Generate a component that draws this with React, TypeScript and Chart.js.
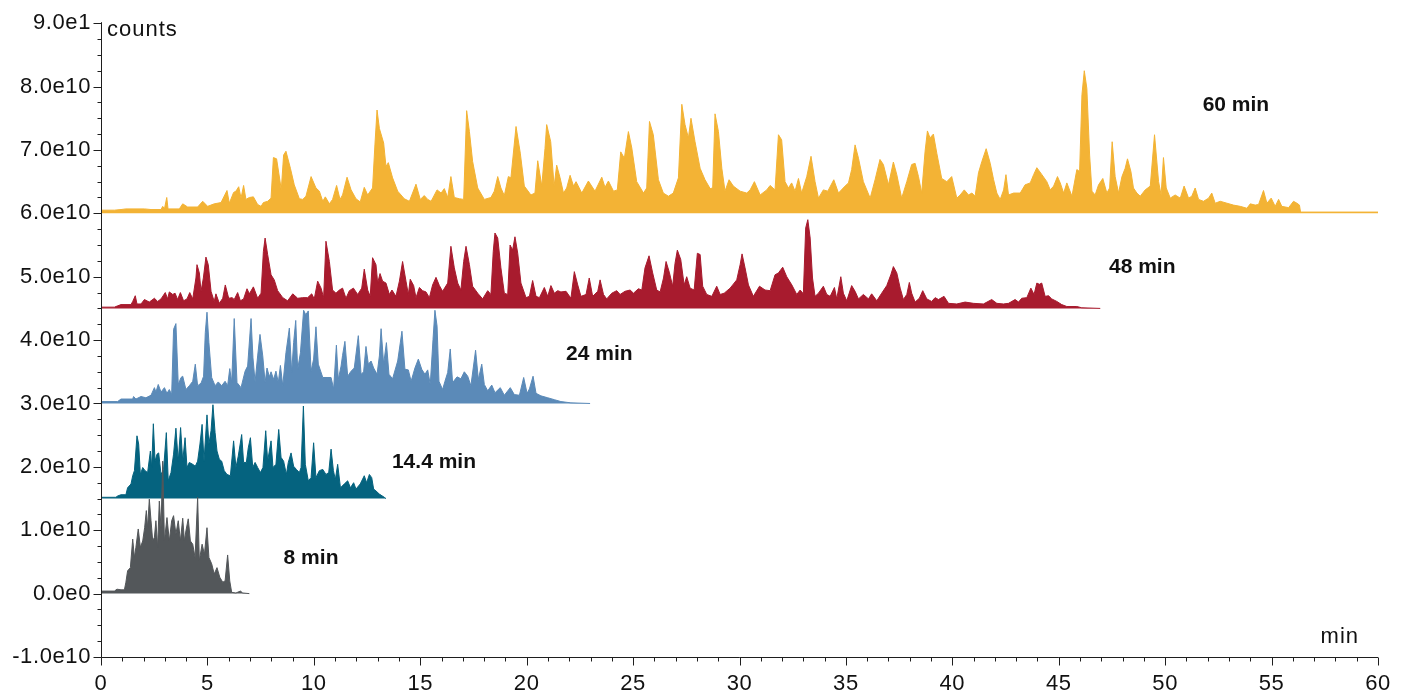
import React, { useEffect, useRef } from "react";
import { Chart, registerables } from "chart.js";

Chart.register(...registerables);

// ---- Axis ticks ----
const xTickLabels = ["0", "5", "10", "15", "20", "25", "30", "35", "40", "45", "50", "55", "60"];
const yTickLabels = ["-1.0e10", "0.0e0", "1.0e10", "2.0e10", "3.0e10", "4.0e10", "5.0e10", "6.0e10", "7.0e10", "8.0e10", "9.0e1"];

// ---- Series (time in min, signal above the trace offset, in 1e10 counts) ----
const seriesNames = ["8 min", "14.4 min", "24 min", "48 min", "60 min"];
const seriesOffsets = [0, 1.5, 3.0, 4.5, 6.0];

const trace8min: number[][] = [
  [0, 0.04], [0.63, 0.04], [0.75, 0.07], [0.94, 0.06], [1.1, 0.06], [1.17, 0.18], [1.25, 0.36], [1.38, 0.41],
  [1.49, 0.86], [1.57, 0.57], [1.64, 0.73], [1.75, 1.02], [1.85, 0.73], [1.96, 0.83], [2.05, 1.04], [2.13, 1.31],
  [2.19, 1.04], [2.27, 1.49], [2.35, 1.15], [2.43, 0.83], [2.51, 0.89], [2.58, 1.15], [2.66, 0.73], [2.74, 1.46],
  [2.82, 1.04], [2.9, 2.09], [2.98, 0.83], [3.1, 1.2], [3.21, 0.83], [3.32, 1.15], [3.41, 1.23], [3.52, 0.94],
  [3.63, 1.15], [3.73, 0.83], [3.84, 1.19], [3.92, 0.83], [3.99, 0.99], [4.1, 1.18], [4.2, 0.83], [4.31, 0.78],
  [4.42, 0.57], [4.54, 1.52], [4.62, 0.52], [4.75, 0.78], [4.86, 0.62], [4.98, 1.04], [5.07, 0.57], [5.2, 0.47],
  [5.32, 0.31], [5.45, 0.41], [5.58, 0.26], [5.72, 0.18], [5.83, 0.2], [5.95, 0.61], [6.05, 0.2], [6.14, 0.02],
  [6.34, 0.01], [6.55, 0.04], [6.66, 0.01], [6.97, 0.0],
];

const trace14min: number[][] = [
  [0, 0.02], [0.7, 0.02], [0.78, 0.04], [0.94, 0.06], [1.17, 0.06], [1.25, 0.17], [1.41, 0.23], [1.49, 0.36],
  [1.57, 0.44], [1.69, 0.99], [1.77, 0.86], [1.85, 0.38], [1.96, 0.49], [2.07, 0.44], [2.19, 0.41], [2.32, 0.75],
  [2.38, 0.49], [2.46, 1.18], [2.54, 0.59], [2.63, 0.7], [2.71, 0.72], [2.82, 0.38], [2.94, 0.46], [3.07, 1.04],
  [3.16, 0.28], [3.29, 0.41], [3.41, 0.7], [3.52, 1.11], [3.63, 0.59], [3.74, 1.12], [3.84, 0.59], [3.95, 0.96],
  [4.04, 0.49], [4.15, 0.57], [4.31, 0.54], [4.43, 0.51], [4.54, 0.59], [4.65, 0.86], [4.75, 1.17], [4.84, 0.59],
  [4.98, 1.32], [5.07, 0.86], [5.17, 1.07], [5.26, 1.48], [5.36, 1.04], [5.45, 0.75], [5.56, 0.62], [5.67, 0.59],
  [5.79, 0.44], [5.92, 0.38], [6.08, 0.36], [6.23, 0.91], [6.34, 0.49], [6.45, 0.67], [6.61, 1.01], [6.7, 0.57],
  [6.83, 0.57], [6.92, 0.8], [7.02, 0.96], [7.13, 0.49], [7.24, 0.57], [7.36, 0.49], [7.49, 0.41], [7.61, 0.49],
  [7.74, 1.07], [7.83, 0.59], [7.99, 0.91], [8.08, 0.49], [8.22, 0.54], [8.35, 1.09], [8.46, 0.65], [8.58, 0.59],
  [8.71, 0.38], [8.8, 0.57], [8.93, 0.72], [9.05, 0.51], [9.18, 0.46], [9.32, 0.41], [9.4, 0.49], [9.51, 1.46],
  [9.6, 0.54], [9.74, 0.28], [9.87, 0.33], [9.99, 0.88], [10.1, 0.33], [10.26, 0.44], [10.42, 0.46], [10.57, 0.38],
  [10.7, 0.41], [10.81, 0.78], [10.92, 0.44], [11.01, 0.3], [11.12, 0.54], [11.25, 0.17], [11.43, 0.23], [11.59, 0.28],
  [11.72, 0.17], [11.87, 0.25], [11.98, 0.15], [12.18, 0.23], [12.37, 0.36], [12.48, 0.25], [12.61, 0.38], [12.72, 0.33],
  [12.81, 0.15], [12.92, 0.12], [13.08, 0.07], [13.31, 0.02], [13.39, 0.0],
];

const trace24min: number[][] = [
  [0, 0.03], [0.78, 0.03], [0.94, 0.07], [1.49, 0.07], [1.53, 0.11], [1.64, 0.07], [1.88, 0.11], [2.11, 0.09],
  [2.35, 0.13], [2.51, 0.25], [2.58, 0.18], [2.69, 0.3], [2.82, 0.18], [2.98, 0.25], [3.1, 0.16], [3.21, 0.22],
  [3.32, 0.14], [3.41, 1.17], [3.52, 1.26], [3.63, 0.3], [3.76, 0.41], [3.84, 0.43], [3.99, 0.22], [4.15, 0.28],
  [4.31, 0.35], [4.43, 0.62], [4.54, 0.28], [4.7, 0.32], [4.82, 0.43], [4.9, 1.12], [4.98, 1.44], [5.07, 0.96],
  [5.2, 0.41], [5.36, 0.28], [5.51, 0.34], [5.67, 0.28], [5.83, 0.35], [5.95, 0.28], [6.05, 0.55], [6.14, 0.33],
  [6.26, 1.34], [6.39, 0.33], [6.58, 0.25], [6.77, 0.51], [6.89, 0.59], [7.05, 1.34], [7.14, 0.72], [7.24, 0.34],
  [7.36, 0.75], [7.47, 1.09], [7.6, 0.75], [7.71, 0.33], [7.8, 0.56], [7.91, 0.42], [7.99, 0.5], [8.11, 0.38],
  [8.22, 0.51], [8.33, 0.33], [8.43, 0.6], [8.54, 0.28], [8.69, 0.8], [8.85, 1.19], [8.96, 0.49], [9.05, 0.96],
  [9.15, 1.31], [9.24, 0.54], [9.37, 0.8], [9.52, 1.47], [9.62, 1.4], [9.74, 1.46], [9.87, 0.51], [9.99, 0.7],
  [10.1, 1.21], [10.21, 0.62], [10.42, 0.41], [10.62, 0.41], [10.81, 0.41], [10.93, 0.23], [11.06, 0.92], [11.15, 0.38],
  [11.28, 0.59], [11.35, 0.76], [11.46, 0.98], [11.59, 0.43], [11.75, 0.51], [11.9, 0.56], [12.09, 1.07], [12.22, 0.46],
  [12.34, 0.5], [12.45, 0.9], [12.56, 0.62], [12.69, 0.67], [12.81, 0.56], [12.97, 0.46], [13.08, 0.75], [13.16, 1.18],
  [13.28, 0.62], [13.41, 0.96], [13.53, 0.46], [13.7, 0.39], [13.94, 0.67], [14.14, 1.14], [14.28, 0.54], [14.44, 0.53],
  [14.57, 0.35], [14.75, 0.56], [14.91, 0.7], [15.07, 0.54], [15.22, 0.46], [15.35, 0.53], [15.47, 0.3], [15.6, 1.01],
  [15.69, 1.47], [15.79, 1.22], [15.88, 0.35], [16.05, 0.22], [16.16, 0.35], [16.29, 0.49], [16.41, 0.86], [16.52, 0.33],
  [16.73, 0.42], [16.91, 0.39], [17.07, 0.5], [17.23, 0.43], [17.38, 0.28], [17.6, 0.84], [17.73, 0.38], [17.89, 0.62],
  [18.01, 0.3], [18.17, 0.2], [18.36, 0.29], [18.51, 0.17], [18.76, 0.25], [18.95, 0.13], [19.23, 0.25], [19.42, 0.14],
  [19.66, 0.13], [19.86, 0.41], [20.02, 0.16], [20.13, 0.23], [20.3, 0.43], [20.44, 0.16], [20.67, 0.12], [20.99, 0.09],
  [21.3, 0.06], [21.61, 0.03], [22.08, 0.01], [22.98, 0.0],
];

const trace48min: number[][] = [
  [0, 0.02], [0.63, 0.02], [0.78, 0.04], [0.94, 0.06], [1.41, 0.06], [1.49, 0.11], [1.61, 0.2], [1.69, 0.07],
  [1.88, 0.07], [2.04, 0.14], [2.27, 0.1], [2.51, 0.16], [2.66, 0.11], [2.82, 0.15], [3.02, 0.25], [3.13, 0.15],
  [3.21, 0.26], [3.37, 0.22], [3.48, 0.24], [3.6, 0.14], [3.73, 0.25], [3.88, 0.12], [4.04, 0.15], [4.17, 0.25],
  [4.31, 0.15], [4.46, 0.48], [4.51, 0.69], [4.62, 0.56], [4.7, 0.27], [4.81, 0.48], [4.93, 0.81], [5.04, 0.69],
  [5.17, 0.27], [5.32, 0.11], [5.4, 0.23], [5.56, 0.08], [5.72, 0.16], [5.84, 0.37], [6.0, 0.16], [6.16, 0.17],
  [6.26, 0.14], [6.42, 0.25], [6.55, 0.12], [6.7, 0.15], [6.86, 0.31], [6.97, 0.23], [7.16, 0.34], [7.36, 0.16],
  [7.52, 0.24], [7.63, 0.9], [7.71, 1.11], [7.83, 0.85], [7.99, 0.53], [8.14, 0.45], [8.3, 0.28], [8.54, 0.17],
  [8.77, 0.12], [9.01, 0.23], [9.24, 0.16], [9.48, 0.17], [9.71, 0.17], [9.9, 0.23], [10.02, 0.15], [10.18, 0.43],
  [10.34, 0.32], [10.46, 0.17], [10.57, 1.06], [10.73, 0.74], [10.88, 0.29], [11.04, 0.24], [11.2, 0.29], [11.35, 0.32],
  [11.51, 0.16], [11.67, 0.28], [11.86, 0.32], [12.06, 0.22], [12.25, 0.32], [12.37, 0.62], [12.53, 0.29], [12.65, 0.19],
  [12.76, 0.8], [12.92, 0.69], [13.0, 0.4], [13.11, 0.55], [13.23, 0.43], [13.39, 0.4], [13.55, 0.22], [13.67, 0.29],
  [13.86, 0.19], [14.02, 0.43], [14.17, 0.74], [14.33, 0.43], [14.44, 0.22], [14.53, 0.46], [14.69, 0.36], [14.8, 0.17],
  [14.96, 0.33], [15.11, 0.28], [15.27, 0.26], [15.43, 0.17], [15.58, 0.37], [15.74, 0.49], [15.9, 0.36], [16.05, 0.27],
  [16.29, 0.4], [16.44, 0.98], [16.6, 0.64], [16.76, 0.4], [16.91, 0.29], [17.04, 0.74], [17.15, 0.98], [17.31, 0.69],
  [17.46, 0.35], [17.7, 0.24], [17.93, 0.15], [18.17, 0.28], [18.32, 0.22], [18.43, 0.9], [18.51, 1.19], [18.64, 1.11],
  [18.79, 0.64], [18.95, 0.24], [19.11, 0.22], [19.22, 1.0], [19.34, 0.92], [19.45, 1.13], [19.58, 0.87], [19.73, 0.4],
  [19.97, 0.17], [20.13, 0.19], [20.28, 0.44], [20.44, 0.19], [20.6, 0.17], [20.83, 0.33], [20.99, 0.19], [21.14, 0.36],
  [21.3, 0.24], [21.46, 0.28], [21.61, 0.26], [21.85, 0.27], [22.08, 0.16], [22.24, 0.58], [22.4, 0.37], [22.55, 0.19],
  [22.79, 0.22], [22.94, 0.48], [23.1, 0.19], [23.34, 0.27], [23.45, 0.45], [23.61, 0.22], [23.76, 0.15], [24.0, 0.24],
  [24.23, 0.28], [24.39, 0.22], [24.62, 0.27], [24.86, 0.29], [25.02, 0.24], [25.25, 0.31], [25.41, 0.29], [25.56, 0.64],
  [25.75, 0.83], [25.92, 0.56], [26.11, 0.29], [26.27, 0.26], [26.43, 0.48], [26.55, 0.74], [26.71, 0.56], [26.86, 0.35],
  [26.97, 0.71], [27.08, 0.92], [27.24, 0.77], [27.4, 0.37], [27.52, 0.5], [27.68, 0.32], [27.87, 0.29], [28.02, 0.87],
  [28.15, 0.85], [28.27, 0.35], [28.46, 0.22], [28.7, 0.19], [28.93, 0.35], [29.09, 0.22], [29.28, 0.24], [29.56, 0.32],
  [29.87, 0.45], [30.03, 0.69], [30.12, 0.86], [30.26, 0.64], [30.42, 0.37], [30.65, 0.19], [30.94, 0.35], [31.2, 0.29],
  [31.44, 0.28], [31.67, 0.53], [31.83, 0.56], [32.03, 0.65], [32.22, 0.5], [32.46, 0.37], [32.69, 0.22], [32.85, 0.29],
  [33.0, 0.23], [33.11, 1.27], [33.21, 1.4], [33.32, 1.11], [33.43, 0.48], [33.55, 0.19], [33.71, 0.24], [33.94, 0.35],
  [34.1, 0.22], [34.26, 0.19], [34.46, 0.33], [34.57, 0.15], [34.76, 0.5], [34.88, 0.24], [35.04, 0.12], [35.27, 0.36],
  [35.43, 0.27], [35.59, 0.15], [35.82, 0.22], [36.06, 0.15], [36.21, 0.23], [36.45, 0.12], [36.68, 0.24], [36.92, 0.36],
  [37.11, 0.53], [37.23, 0.66], [37.39, 0.56], [37.55, 0.32], [37.7, 0.14], [37.86, 0.22], [37.98, 0.41], [38.09, 0.24],
  [38.25, 0.1], [38.45, 0.16], [38.61, 0.28], [38.8, 0.15], [39.03, 0.11], [39.19, 0.17], [39.35, 0.14], [39.61, 0.19],
  [39.82, 0.08], [40.21, 0.07], [40.6, 0.1], [40.99, 0.08], [41.46, 0.07], [41.85, 0.14], [42.09, 0.08], [42.4, 0.07],
  [42.64, 0.08], [42.95, 0.14], [43.11, 0.1], [43.26, 0.16], [43.5, 0.17], [43.69, 0.32], [43.84, 0.22], [43.97, 0.4],
  [44.09, 0.38], [44.2, 0.4], [44.36, 0.19], [44.52, 0.2], [44.67, 0.15], [44.91, 0.11], [45.14, 0.06], [45.38, 0.03],
  [45.85, 0.03], [46.08, 0.01], [46.95, 0.0],
];

const trace60min: number[][] = [
  [0, 0.05], [0.63, 0.05], [0.94, 0.06], [1.17, 0.07], [2.04, 0.07], [2.35, 0.06], [2.82, 0.06], [2.9, 0.11],
  [2.98, 0.07], [3.09, 0.25], [3.15, 0.07], [3.68, 0.07], [3.84, 0.15], [4.07, 0.1], [4.54, 0.1], [4.78, 0.19],
  [5.01, 0.11], [5.32, 0.15], [5.64, 0.17], [5.92, 0.36], [6.03, 0.16], [6.23, 0.33], [6.34, 0.35], [6.47, 0.42],
  [6.58, 0.24], [6.7, 0.44], [6.81, 0.22], [6.97, 0.25], [7.16, 0.26], [7.36, 0.14], [7.52, 0.11], [7.63, 0.17],
  [7.83, 0.19], [7.99, 0.24], [8.1, 0.88], [8.25, 0.86], [8.41, 0.51], [8.47, 0.37], [8.58, 0.92], [8.69, 0.98],
  [8.9, 0.71], [9.08, 0.45], [9.32, 0.23], [9.48, 0.22], [9.63, 0.27], [9.87, 0.58], [10.1, 0.4], [10.26, 0.35],
  [10.42, 0.19], [10.54, 0.26], [10.73, 0.15], [10.88, 0.22], [11.07, 0.44], [11.23, 0.22], [11.35, 0.29], [11.56, 0.57],
  [11.75, 0.37], [11.98, 0.23], [12.18, 0.18], [12.37, 0.41], [12.53, 0.29], [12.76, 0.4], [12.87, 1.08], [12.97, 1.63],
  [13.08, 1.34], [13.28, 1.11], [13.39, 0.74], [13.5, 0.8], [13.7, 0.56], [13.94, 0.35], [14.25, 0.23], [14.49, 0.19],
  [14.8, 0.46], [15.0, 0.22], [15.19, 0.28], [15.35, 0.22], [15.51, 0.19], [15.79, 0.37], [15.98, 0.32], [16.13, 0.39],
  [16.29, 0.25], [16.44, 0.58], [16.6, 0.25], [16.84, 0.23], [17.04, 0.22], [17.18, 1.62], [17.31, 1.29], [17.46, 0.82],
  [17.7, 0.4], [18.01, 0.22], [18.32, 0.25], [18.48, 0.35], [18.64, 0.58], [18.79, 0.4], [18.95, 0.28], [19.14, 0.58],
  [19.26, 0.56], [19.5, 1.37], [19.7, 0.95], [19.89, 0.43], [20.2, 0.29], [20.39, 0.32], [20.52, 0.83], [20.71, 0.43],
  [20.86, 1.02], [20.94, 1.4], [21.13, 1.13], [21.29, 0.43], [21.41, 0.76], [21.57, 0.56], [21.73, 0.32], [21.88, 0.4],
  [22.04, 0.6], [22.2, 0.43], [22.32, 0.5], [22.59, 0.32], [22.9, 0.51], [23.21, 0.35], [23.53, 0.57], [23.68, 0.41],
  [23.84, 0.51], [24.08, 0.35], [24.26, 0.37], [24.42, 0.97], [24.59, 0.87], [24.78, 1.29], [24.94, 1.03], [25.17, 0.5],
  [25.49, 0.32], [25.64, 0.4], [25.77, 1.45], [25.95, 1.24], [26.19, 0.53], [26.42, 0.32], [26.66, 0.27], [26.89, 0.32],
  [27.13, 0.56], [27.29, 1.72], [27.44, 1.4], [27.6, 1.19], [27.72, 1.5], [27.91, 1.13], [28.15, 0.71], [28.38, 0.53],
  [28.62, 0.39], [28.74, 0.4], [28.85, 1.57], [29.01, 1.29], [29.17, 0.71], [29.32, 0.35], [29.51, 0.53], [29.71, 0.43],
  [30.03, 0.35], [30.34, 0.32], [30.5, 0.37], [30.7, 0.5], [30.97, 0.29], [31.28, 0.37], [31.44, 0.44], [31.67, 0.37],
  [31.83, 1.24], [31.98, 1.16], [32.14, 0.5], [32.3, 0.4], [32.45, 0.48], [32.61, 0.35], [32.77, 0.55], [32.92, 0.32],
  [33.16, 0.58], [33.36, 0.9], [33.55, 0.5], [33.71, 0.24], [33.94, 0.37], [34.15, 0.35], [34.43, 0.53], [34.65, 0.32],
  [34.96, 0.43], [35.12, 0.48], [35.27, 0.69], [35.43, 1.08], [35.59, 0.87], [35.82, 0.5], [36.14, 0.24], [36.37, 0.53],
  [36.6, 0.85], [36.76, 0.77], [37.0, 0.45], [37.23, 0.81], [37.39, 0.61], [37.62, 0.24], [37.86, 0.5], [38.09, 0.77],
  [38.25, 0.79], [38.41, 0.58], [38.56, 0.32], [38.72, 0.98], [38.83, 1.3], [38.95, 1.19], [39.11, 1.25], [39.27, 0.95],
  [39.5, 0.55], [39.74, 0.5], [39.97, 0.58], [40.21, 0.24], [40.37, 0.29], [40.56, 0.37], [40.76, 0.29], [40.92, 0.32],
  [41.07, 0.27], [41.23, 0.64], [41.39, 0.82], [41.59, 1.02], [41.78, 0.79], [41.94, 0.53], [42.09, 0.32], [42.25, 0.22],
  [42.41, 0.37], [42.52, 0.61], [42.64, 0.29], [42.88, 0.32], [43.19, 0.32], [43.42, 0.45], [43.66, 0.48], [43.82, 0.61],
  [43.97, 0.72], [44.21, 0.61], [44.44, 0.5], [44.6, 0.37], [44.76, 0.43], [44.94, 0.58], [45.07, 0.48], [45.23, 0.32],
  [45.38, 0.48], [45.62, 0.27], [45.85, 0.69], [45.98, 0.66], [46.09, 1.87], [46.2, 2.25], [46.32, 1.97], [46.45, 0.92],
  [46.56, 0.35], [46.71, 0.29], [46.87, 0.45], [47.07, 0.55], [47.26, 0.32], [47.39, 0.4], [47.51, 1.13], [47.65, 0.58],
  [47.81, 0.32], [47.97, 0.58], [48.12, 0.71], [48.23, 0.86], [48.39, 0.66], [48.51, 0.4], [48.67, 0.32], [48.83, 0.27],
  [49.06, 0.37], [49.3, 0.43], [49.5, 1.24], [49.69, 0.5], [49.81, 0.29], [49.92, 0.88], [50.05, 0.4], [50.24, 0.24],
  [50.47, 0.29], [50.71, 0.24], [50.89, 0.43], [51.1, 0.24], [51.25, 0.27], [51.41, 0.4], [51.57, 0.22], [51.8, 0.19],
  [52.04, 0.24], [52.19, 0.32], [52.35, 0.16], [52.59, 0.19], [52.9, 0.16], [53.21, 0.13], [53.53, 0.11], [53.84, 0.08],
  [54.0, 0.15], [54.23, 0.13], [54.39, 0.14], [54.62, 0.36], [54.78, 0.16], [54.98, 0.24], [55.17, 0.11], [55.33, 0.22],
  [55.48, 0.11], [55.8, 0.09], [56.03, 0.19], [56.19, 0.16], [56.31, 0.13], [56.36, 0.02], [60, 0.02],
];

const traces = [trace8min, trace14min, trace24min, trace48min, trace60min];

// ---- Styles and annotation anchors (not data) ----
const seriesColors = ["#53575a", "#05637f", "#5b8ab8", "#a81b2e", "#f3b335"];
const labelAnchors = [
  [8.58, 0.47],
  [13.67, 1.98],
  [21.85, 3.69],
  [47.36, 5.06],
  [51.76, 7.62],
];
const FONT = "'Liberation Sans', Arial, Helvetica, sans-serif";
const AXIS_COLOR = "#1e1e1e";

const decorPlugin = {
  id: "decor",
  beforeDraw(chart: any) {
    chart.ctx.letterSpacing = "0.6px";
  },
  afterDraw(chart: any) {
    const { ctx, chartArea, scales } = chart;
    const xs = scales.x;
    const ys = scales.y;
    ctx.save();
    ctx.strokeStyle = AXIS_COLOR;
    ctx.lineWidth = 1;
    ctx.beginPath();
    const ax = Math.round(chartArea.left) + 0.5;
    const ay = Math.round(chartArea.bottom) + 0.5;
    ctx.moveTo(ax, chartArea.top - 1);
    ctx.lineTo(ax, ay);
    ctx.lineTo(chartArea.right, ay);
    for (let i = 0; i <= 40; i++) {
      const v = -1 + i * 0.25;
      const y = Math.round(ys.getPixelForValue(v)) + 0.5;
      const len = i % 4 === 0 ? 8 : 4;
      ctx.moveTo(ax - len, y);
      ctx.lineTo(ax, y);
    }
    for (let m = 0; m <= 60; m++) {
      const x = Math.round(xs.getPixelForValue(m)) + 0.5;
      const len = m % 5 === 0 ? 8 : 4;
      ctx.moveTo(x, ay);
      ctx.lineTo(x, ay + len);
    }
    ctx.stroke();

    // axis titles
    ctx.fillStyle = "#111";
    ctx.letterSpacing = "1px";
    ctx.font = `22px ${FONT}`;
    ctx.textBaseline = "alphabetic";
    ctx.textAlign = "left";
    ctx.fillText("counts", chartArea.left + 6, chartArea.top + 13);
    ctx.textAlign = "right";
    ctx.fillText("min", chartArea.right - 19, chartArea.bottom - 14);

    // series labels
    ctx.letterSpacing = "0px";
    ctx.font = `bold 21px ${FONT}`;
    ctx.textAlign = "left";
    seriesNames.forEach((name, i) => {
      const [t, v] = labelAnchors[i];
      ctx.fillText(name, xs.getPixelForValue(t), ys.getPixelForValue(v));
    });
    ctx.restore();
    ctx.letterSpacing = "0px";
  },
};

export default function App() {
  const canvasRef = useRef<HTMLCanvasElement | null>(null);

  useEffect(() => {
    const canvas = canvasRef.current;
    if (!canvas) return;
    const datasets = traces.map((trace, i) => ({
      label: seriesNames[i],
      data: trace.map(([t, v]) => ({ x: t, y: seriesOffsets[i] + v })),
      borderColor: seriesColors[i],
      backgroundColor: seriesColors[i],
      borderWidth: 1,
      pointRadius: 0,
      tension: 0,
      fill: { value: seriesOffsets[i] },
    }));

    const chart = new Chart(canvas, {
      type: "line",
      data: { datasets },
      options: {
        responsive: false,
        animation: false,
        layout: { padding: { top: 22, right: 30, left: 0, bottom: 0 } },
        plugins: {
          legend: { display: false },
          tooltip: { enabled: false },
          filler: { propagate: false },
        },
        scales: {
          x: {
            type: "linear",
            min: 0,
            max: 60,
            grid: { display: false, drawTicks: false },
            border: { display: false },
            ticks: {
              stepSize: 5,
              autoSkip: false,
              maxRotation: 0,
              padding: 14,
              color: "#111",
              font: { family: FONT, size: 22 },
              callback: (_v: any, idx: number) => xTickLabels[idx],
            },
            afterFit: (scale: any) => {
              scale.height = 37;
            },
          },
          y: {
            type: "linear",
            min: -1,
            max: 9,
            grid: { display: false, drawTicks: false },
            border: { display: false },
            ticks: {
              stepSize: 1,
              autoSkip: false,
              padding: 10,
              color: "#111",
              font: { family: FONT, size: 22 },
              callback: (_v: any, idx: number) => yTickLabels[idx],
            },
            afterFit: (scale: any) => {
              scale.width = 101;
            },
          },
        },
      },
      plugins: [decorPlugin],
    });
    return () => chart.destroy();
  }, []);

  return (
    <canvas
      ref={canvasRef}
      width={1408}
      height={694}
      style={{ position: "fixed", left: 0, top: 0, width: 1408, height: 694, display: "block", background: "#fff" }}
    />
  );
}
